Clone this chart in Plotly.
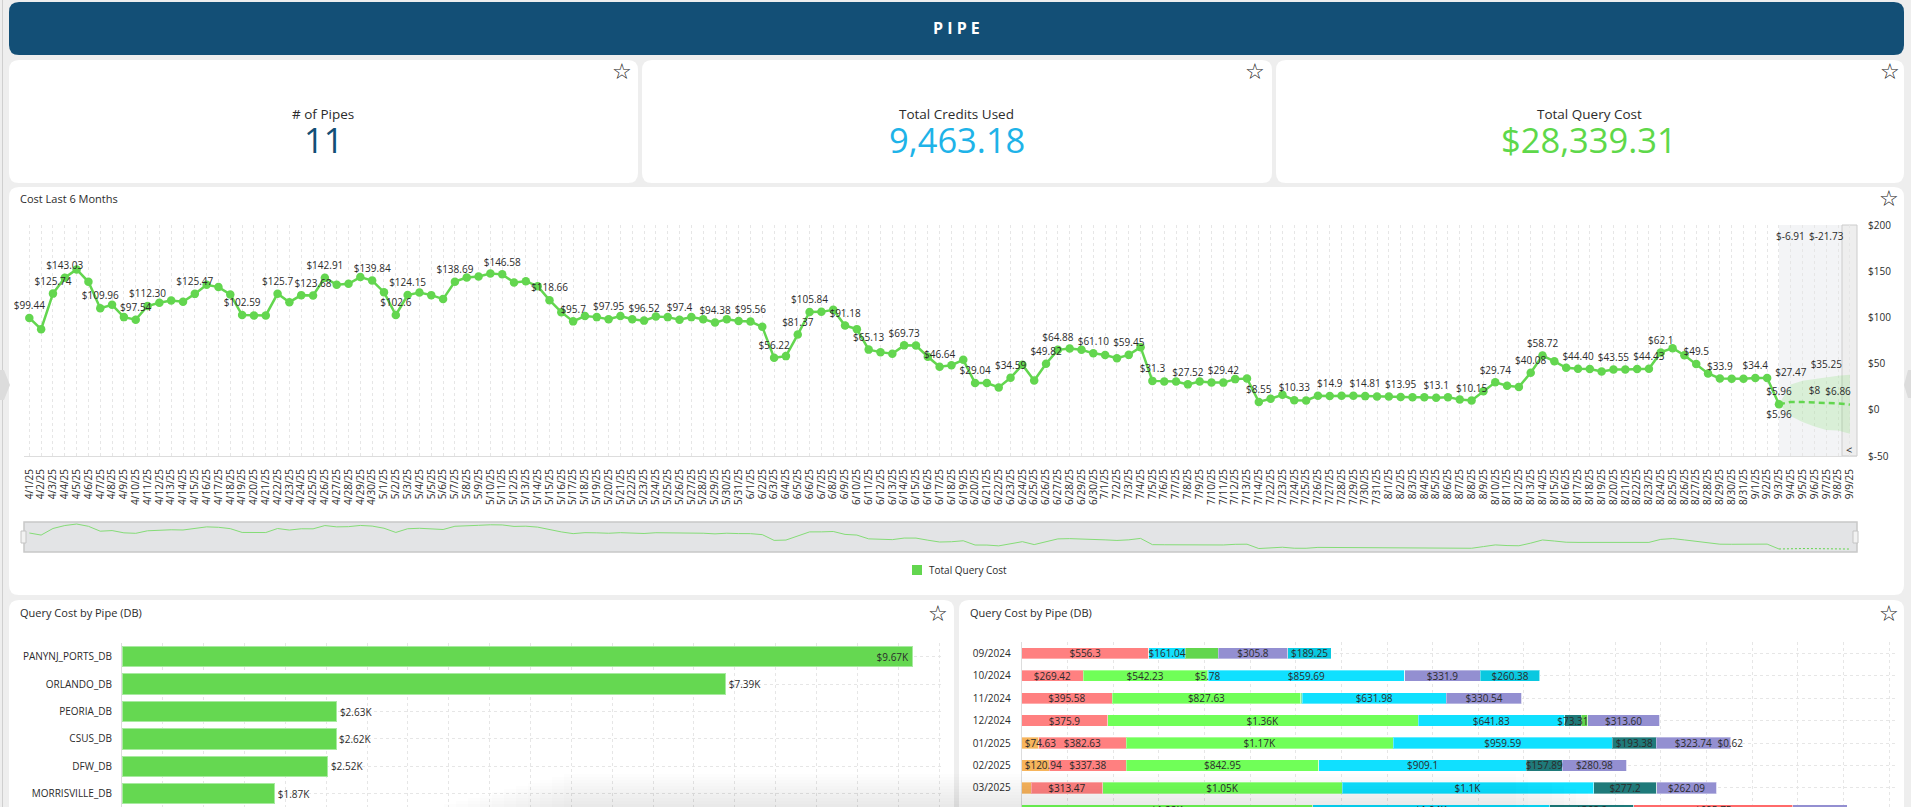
import plotly.graph_objects as go

W, H = 1911, 807
FONT = "Open Sans, Noto Sans, Arial, sans-serif"
TEXT = "#2b2b2b"
GREEN = "#63d64f"

# cost per day, last 6 months
dates = [
    "4/1/25", "4/2/25", "4/3/25", "4/4/25", "4/5/25", "4/6/25", "4/7/25", "4/8/25", "4/9/25", "4/10/25",
    "4/11/25", "4/12/25", "4/13/25", "4/14/25", "4/15/25", "4/16/25", "4/17/25", "4/18/25", "4/19/25", "4/20/25",
    "4/21/25", "4/22/25", "4/23/25", "4/24/25", "4/25/25", "4/26/25", "4/27/25", "4/28/25", "4/29/25", "4/30/25",
    "5/1/25", "5/2/25", "5/3/25", "5/4/25", "5/5/25", "5/6/25", "5/7/25", "5/8/25", "5/9/25", "5/10/25",
    "5/11/25", "5/12/25", "5/13/25", "5/14/25", "5/15/25", "5/16/25", "5/17/25", "5/18/25", "5/19/25", "5/20/25",
    "5/21/25", "5/22/25", "5/23/25", "5/24/25", "5/25/25", "5/26/25", "5/27/25", "5/28/25", "5/29/25", "5/30/25",
    "5/31/25", "6/1/25", "6/2/25", "6/3/25", "6/4/25", "6/5/25", "6/6/25", "6/7/25", "6/8/25", "6/9/25",
    "6/10/25", "6/11/25", "6/12/25", "6/13/25", "6/14/25", "6/15/25", "6/16/25", "6/17/25", "6/18/25", "6/19/25",
    "6/20/25", "6/21/25", "6/22/25", "6/23/25", "6/24/25", "6/25/25", "6/26/25", "6/27/25", "6/28/25", "6/29/25",
    "6/30/25", "7/1/25", "7/2/25", "7/3/25", "7/4/25", "7/5/25", "7/6/25", "7/7/25", "7/8/25", "7/9/25",
    "7/10/25", "7/11/25", "7/12/25", "7/13/25", "7/14/25", "7/22/25", "7/23/25", "7/24/25", "7/25/25", "7/26/25",
    "7/27/25", "7/28/25", "7/29/25", "7/30/25", "7/31/25", "8/1/25", "8/2/25", "8/3/25", "8/4/25", "8/5/25",
    "8/6/25", "8/7/25", "8/8/25", "8/9/25", "8/10/25", "8/11/25", "8/12/25", "8/13/25", "8/14/25", "8/15/25",
    "8/16/25", "8/17/25", "8/18/25", "8/19/25", "8/20/25", "8/21/25", "8/22/25", "8/23/25", "8/24/25", "8/25/25",
    "8/26/25", "8/27/25", "8/28/25", "8/29/25", "8/30/25", "8/31/25", "9/1/25", "9/2/25", "9/3/25",
    "9/4/25", "9/5/25", "9/6/25", "9/7/25", "9/8/25", "9/9/25",
]
actual_cost = [
    99.44, 87.3, 125.74, 143.03, 151.9, 138.5, 109.96, 113.6, 100.3, 97.54,
    112.30, 115.8, 118.3, 116.9, 125.47, 135.3, 132.8, 124.8, 102.59, 102.1,
    102.1, 125.7, 116.5, 124.1, 123.68, 142.91, 135.3, 136.4, 143.6, 139.84,
    127.3, 102.6, 124.15, 127.0, 124.1, 119.8, 138.69, 143.2, 144.3, 147.5,
    146.58, 137.8, 139.2, 133.8, 118.66, 105.7, 95.7, 101.4, 100.3, 97.95,
    101.4, 98.1, 96.52, 101.0, 100.3, 97.4, 100.3, 98.1, 94.38, 98.1,
    96.0, 95.56, 89.8, 56.22, 58.1, 81.37, 105.84, 106.0, 108.2, 91.18,
    87.3, 65.13, 62.4, 60.6, 69.73, 69.6, 57.4, 46.64, 48.3, 54.1,
    29.04, 28.9, 24.2, 34.59, 48.7, 31.7, 49.82, 64.88, 66.4, 64.9,
    61.10, 59.2, 55.9, 59.45, 67.8, 31.3, 30.7, 30.7, 27.52, 30.7,
    29.6, 29.42, 33.2, 33.9, 8.55, 11.9, 16.2, 10.33, 10.1, 15.2,
    14.9, 15.2, 15.2, 14.81, 14.4, 14.4, 13.95, 13.7, 13.7, 13.1,
    13.7, 11.2, 10.15, 20.0, 29.74, 26.0, 24.8, 40.08, 58.72, 52.5,
    45.5, 44.40, 44.2, 41.5, 43.55, 43.7, 44.2, 44.43, 62.1, 66.7,
    59.0, 49.5, 39.3, 33.9, 33.5, 33.5, 34.4, 34.4, 5.96,
]
# only some points carry a label in the original
cost_labels = {
    "4/1/25": "$99.44", "4/3/25": "$125.74", "4/4/25": "$143.03", "4/7/25": "$109.96", "4/10/25": "$97.54",
    "4/11/25": "$112.30", "4/15/25": "$125.47", "4/19/25": "$102.59", "4/22/25": "$125.7", "4/25/25": "$123.68",
    "4/26/25": "$142.91", "4/30/25": "$139.84", "5/2/25": "$102.6", "5/3/25": "$124.15", "5/7/25": "$138.69",
    "5/11/25": "$146.58", "5/15/25": "$118.66", "5/17/25": "$95.7", "5/20/25": "$97.95", "5/23/25": "$96.52",
    "5/26/25": "$97.4", "5/29/25": "$94.38", "6/1/25": "$95.56", "6/3/25": "$56.22", "6/5/25": "$81.37",
    "6/6/25": "$105.84", "6/9/25": "$91.18", "6/11/25": "$65.13", "6/14/25": "$69.73", "6/17/25": "$46.64",
    "6/20/25": "$29.04", "6/23/25": "$34.59", "6/26/25": "$49.82", "6/27/25": "$64.88", "6/30/25": "$61.10",
    "7/3/25": "$59.45", "7/5/25": "$31.3", "7/8/25": "$27.52", "7/11/25": "$29.42", "7/14/25": "$8.55",
    "7/24/25": "$10.33", "7/27/25": "$14.9", "7/30/25": "$14.81", "8/2/25": "$13.95", "8/5/25": "$13.1",
    "8/8/25": "$10.15", "8/10/25": "$29.74", "8/13/25": "$40.08", "8/14/25": "$58.72", "8/17/25": "$44.40",
    "8/20/25": "$43.55", "8/23/25": "$44.43", "8/24/25": "$62.1", "8/27/25": "$49.5", "8/29/25": "$33.9",
    "9/1/25": "$34.4", "9/3/25": "$5.96",
}

forecast_dates = ["9/3/25", "9/4/25", "9/5/25", "9/6/25", "9/7/25", "9/8/25", "9/9/25"]
forecast_mid = [5.96, 8.5, 8.4, 8.0, 7.5, 6.86, 5.6]
forecast_upper = [5.96, 27.47, 31.5, 33.5, 35.25, 36.8, 37.9]
forecast_lower = [5.96, -6.91, -13.3, -18.0, -21.73, -22.4, -26.0]
forecast_mid_text = ["", "", "", "$8", "", "$6.86", ""]
forecast_upper_text = ["", "$27.47", "", "", "$35.25", "", ""]
forecast_lower_text = ["$5.96", "", "", "", "", "", ""]
forecast_top_labels = {"9/4/25": "$-6.91", "9/7/25": "$-21.73"}

# cost by pipe
pipe_names = ["PANYNJ_PORTS_DB", "ORLANDO_DB", "PEORIA_DB", "CSUS_DB", "DFW_DB", "MORRISVILLE_DB"]
pipe_cost = [9670, 7390, 2630, 2620, 2520, 1870]
pipe_text = ["$9.67K", "$7.39K", "$2.63K", "$2.62K", "$2.52K", "$1.87K"]

# cost by pipe and month, stacked
months = ["09/2024", "10/2024", "11/2024", "12/2024", "01/2025", "02/2025", "03/2025", "04/2025"]
stack_series = [
    ("#f7b55c", [0, 0, 0, 0, 74.63, 120.94, 41, 0], ["", "", "", "", "$74.63", "$120.94", "", ""]),
    ("#ff8080", [556.3, 269.42, 395.58, 375.9, 382.63, 337.38, 313.47, 0],
     ["$556.3", "$269.42", "$395.58", "$375.9", "$382.63", "$337.38", "$313.47", ""]),
    ("#70ff58", [0, 542.23, 827.63, 1360, 1170, 842.95, 1050, 1275],
     ["", "$542.23", "$827.63", "$1.36K", "$1.17K", "$842.95", "$1.05K", "$1.28K"]),
    ("#7fe8b0", [0, 5.78, 5, 0, 0, 0, 0, 0], ["", "$5.78", "", "", "", "", "", ""]),
    ("#10e0ff", [161.04, 859.69, 631.98, 641.83, 959.59, 909.1, 1100, 1038],
     ["$161.04", "$859.69", "$631.98", "$641.83", "$959.59", "$909.1", "$1.1K", "$1.04K"]),
    ("#1f7a7a", [0, 0, 0, 73.31, 193.38, 157.89, 277.2, 368],
     ["", "", "", "$73.31", "$193.38", "$157.89", "$277.2", "$368.2"]),
    ("#62d64e", [143, 0, 0, 29, 0, 0, 0, 0], ["", "", "", "", "", "", "", ""]),
    ("#ff6a6a", [0, 0, 0, 0, 0, 0, 0, 695.75], ["", "", "", "", "", "", "", "$695.75"]),
    ("#938fd1", [305.8, 331.9, 330.54, 313.60, 323.74, 280.98, 262.09, 240],
     ["$305.8", "$331.9", "$330.54", "$313.60", "$323.74", "$280.98", "$262.09", ""]),
    ("#0ac8e0", [189.25, 260.38, 0, 0, 0, 0, 0, 0], ["$189.25", "$260.38", "", "", "", "", "", ""]),
    ("#b9b6e6", [0, 0, 0, 0, 0.62, 0, 0, 0], ["", "", "", "", "$0.62", "", "", ""]),
]

kpi_cards = [
    ("# of Pipes", "11", "#134f76", 323),
    ("Total Credits Used", "9,463.18", "#1eb3e8", 957),
    ("Total Query Cost", "$28,339.31", "#5ed84a", 1589),
]


def fx(x):
    return x / W


def fy(y):
    return 1 - y / H


def rounded(x0, y0, x1, y1, r=10):
    a, b, c, d = fx(x0), fx(x1), fy(y0), fy(y1)
    rx, ry = r / W, r / H
    return (
        f"M {a + rx},{c} L {b - rx},{c} Q {b},{c} {b},{c - ry} L {b},{d + ry} Q {b},{d} {b - rx},{d} "
        f"L {a + rx},{d} Q {a},{d} {a},{d + ry} L {a},{c - ry} Q {a},{c} {a + rx},{c} Z"
    )


def card(x0, y0, x1, y1, color="white"):
    return dict(type="path", path=rounded(x0, y0, x1, y1), xref="paper", yref="paper",
                fillcolor=color, line_width=0, layer="below")


def box(x0, y0, x1, y1, fill, line="rgba(0,0,0,0)", width=0, layer="below"):
    return dict(type="rect", xref="paper", yref="paper", x0=fx(x0), x1=fx(x1), y0=fy(y0), y1=fy(y1),
                fillcolor=fill, line=dict(color=line, width=width), layer=layer)


def tab(points):
    path = "M " + " L ".join(f"{fx(x)},{fy(y)}" for x, y in points) + " Z"
    return dict(type="path", path=path, xref="paper", yref="paper", fillcolor="#dcdcdc", line_width=0, layer="below")


def note(text, x, y, size=10, color=TEXT, anchor="center", family=FONT):
    return dict(text=text, x=fx(x), y=fy(y), xref="paper", yref="paper", showarrow=False,
                xanchor=anchor, yanchor="middle", font=dict(size=size, color=color, family=family))


fig = go.Figure()

shaded_from = dates.index(forecast_dates[0])
last_x = len(dates) - 1 + 0.6

shapes = [
    box(2, 0, 3, H, "#cfcfcf"),
    card(9, 2, 1904, 55, "#134f76"),
    card(9, 60, 638, 183),
    card(642, 60, 1272, 183),
    card(1276, 60, 1904, 183),
    card(9, 187, 1904, 595),
    card(9, 600, 954, 830),
    card(959, 600, 1904, 830),
    tab([(0, 370), (4, 370), (10, 385), (4, 400), (0, 400)]),
    tab([(1911, 370), (1908, 370), (1904, 385), (1908, 398), (1911, 398)]),
    # forecast shading behind the main plot
    dict(type="rect", xref="x", yref="paper", x0=shaded_from, x1=last_x, y0=fy(456), y1=fy(225),
         fillcolor="#f3f4f6", line_width=0, layer="below"),
    box(1842, 225, 1857, 456, "#eeeeee", "#cccccc", 1),
    # range slider
    box(24, 522, 1857, 552, "#e3e4e6", "#c8c8c8", 1.5),
    box(21, 531, 26, 543, "#f2f2f2", "#c4c4c4", 1, layer="above"),
    box(1853, 531, 1858, 543, "#f2f2f2", "#c4c4c4", 1, layer="above"),
    # legend swatch
    box(912, 565, 922, 575, GREEN),
]
# soft shadow at the bottom of the page
for i in range(12):
    top = 774 + i * 3
    shapes.append(box(420 + (12 - i) * 12, top, 1660 - (12 - i) * 12, H, "rgba(0,0,0,0.009)", layer="above"))

annotations = [
    note("<b>P I P E</b>", 957, 28, 16, "white"),
    note("Cost Last 6 Months", 18, 199, 11, anchor="left"),
    note("Query Cost by Pipe (DB)", 18, 612, 11, anchor="left"),
    note("Query Cost by Pipe (DB)", 968, 612, 11, anchor="left"),
    note("Total Query Cost", 927, 570, 10, anchor="left"),
    note("<", 1849, 449, 11),
]
for label, value, color, center in kpi_cards:
    annotations.append(note(label, center, 114, 13.5))
    annotations.append(note(value, center, 139, 34.5, color))
for sx, sy in [(622, 72), (1255, 72), (1890, 72), (1889, 199), (938, 613), (1889, 613)]:
    annotations.append(note("☆", sx, sy, 22, "#222222", family="DejaVu Sans"))
for day, text in forecast_top_labels.items():
    annotations.append(dict(text=text, x=day, y=188, xref="x", yref="y", showarrow=False,
                            font=dict(size=10, color=TEXT, family=FONT)))

label_font = dict(size=10, color=TEXT, family=FONT)
ghost = dict(color="rgba(0,0,0,0)", size=8.5)

# forecast band
fig.add_trace(go.Scatter(x=forecast_dates, y=forecast_lower, mode="lines+markers+text", text=forecast_lower_text,
                         textposition="bottom center", textfont=label_font, line=dict(width=0, color=GREEN),
                         marker=ghost, hoverinfo="skip"))
fig.add_trace(go.Scatter(x=forecast_dates, y=forecast_upper, mode="lines+markers+text", text=forecast_upper_text,
                         textposition="top center", textfont=label_font, line=dict(width=0, color=GREEN),
                         marker=ghost, fill="tonexty", fillcolor="rgba(99,214,79,0.18)", hoverinfo="skip"))
fig.add_trace(go.Scatter(x=forecast_dates, y=forecast_mid, mode="lines+markers+text", text=forecast_mid_text,
                         textposition="top center", textfont=label_font, marker=ghost,
                         line=dict(color=GREEN, width=2.5, dash="6px,4px")))
fig.add_trace(go.Scatter(x=dates[:len(actual_cost)], y=actual_cost, mode="lines+markers+text",
                         text=[cost_labels.get(d, "") for d in dates[:len(actual_cost)]],
                         textposition="top center", textfont=label_font,
                         line=dict(color=GREEN, width=2.5), marker=dict(color=GREEN, size=8.5),
                         cliponaxis=False))

# range slider preview
fig.add_trace(go.Scatter(x=dates[:len(actual_cost)], y=actual_cost, mode="lines", xaxis="x3", yaxis="y3",
                         line=dict(color="#85dc77", width=1)))
fig.add_trace(go.Scatter(x=forecast_dates, y=forecast_mid, mode="lines", xaxis="x3", yaxis="y3",
                         line=dict(color="#63d64f", width=1, dash="2px,2px")))

# pipe bars
fig.add_trace(go.Bar(x=pipe_cost, y=pipe_names, orientation="h", xaxis="x2", yaxis="y2", width=0.75,
                     text=pipe_text, textposition=["inside"] + ["outside"] * 5, insidetextanchor="end",
                     textangle=0, constraintext="none", textfont=label_font, cliponaxis=False,
                     marker=dict(color="#65d851", line=dict(color="#a8eaa0", width=1))))

# monthly stack, then its labels on a second pair of axes so that no bar covers them
for color, values, texts in stack_series:
    fig.add_trace(go.Bar(x=values, y=months, orientation="h", xaxis="x4", yaxis="y4", width=0.5,
                         marker=dict(color=color, line=dict(color="rgba(255,255,255,0.35)", width=1))))
for n, (color, values, texts) in enumerate(stack_series):
    fig.add_trace(go.Bar(x=values, y=months, orientation="h", xaxis="x5", yaxis="y5", width=0.5,
                         text=texts, textposition="inside", textangle=0, constraintext="none",
                         insidetextanchor="start" if n == 0 else "middle", textfont=label_font,
                         marker=dict(color="rgba(0,0,0,0)", line=dict(width=0))))

dotted = dict(showgrid=True, gridcolor="#e6e6e6", griddash="dot", gridwidth=1, zeroline=False, automargin=False)
hidden = dict(showticklabels=False, showgrid=False, zeroline=False, automargin=False)

fig.update_layout(
    width=W,
    height=H,
    margin=dict(l=0, r=0, t=0, b=0),
    paper_bgcolor="#eeeeee",
    plot_bgcolor="rgba(0,0,0,0)",
    font=dict(family=FONT, size=10, color=TEXT),
    barmode="stack",
    shapes=shapes,
    annotations=annotations,
    showlegend=False,
    xaxis=dict(domain=[fx(24), fx(1857)], type="category", categoryorder="array", categoryarray=dates,
               range=[-0.45, last_x], tickmode="array", tickvals=dates, ticktext=dates, tickangle=-90,
               tickfont=dict(size=10), ticks="outside", ticklen=8, tickcolor="rgba(0,0,0,0)",
               showline=True, linecolor="#dddddd", **dotted),
    yaxis=dict(domain=[fy(456), fy(225)], range=[-50, 200], side="right", anchor="x", automargin=False,
               tickmode="array", tickvals=[-50, 0, 50, 100, 150, 200],
               ticktext=["$-50", "$0", "$50", "$100", "$150", "$200"], tickfont=dict(size=10),
               ticks="outside", ticklen=8, tickcolor="rgba(0,0,0,0)", showgrid=False, zeroline=False),
    xaxis3=dict(domain=[fx(24), fx(1857)], type="category", categoryorder="array", categoryarray=dates,
                range=[-0.45, last_x], anchor="y3", **hidden),
    yaxis3=dict(domain=[fy(552), fy(522)], range=[-11.7, 163.7], anchor="x3", **hidden),
    xaxis2=dict(domain=[fx(122), fx(941)], range=[0, 10024], anchor="y2", dtick=500,
                showticklabels=False, **dotted),
    yaxis2=dict(domain=[0, fy(643)], type="category", categoryorder="array", categoryarray=pipe_names,
                range=[5.485, -0.5], anchor="x2", tickfont=dict(size=10), ticks="outside", ticklen=7,
                tickcolor="rgba(0,0,0,0)", showline=True, linecolor="#dddddd", **dotted),
    xaxis4=dict(domain=[fx(1021.7), fx(1895)], range=[0, 3825], anchor="y4", dtick=200,
                showticklabels=False, **dotted),
    yaxis4=dict(domain=[0, fy(642)], type="category", categoryorder="array", categoryarray=months,
                range=[6.85, -0.5], anchor="x4", tickfont=dict(size=10), ticks="outside", ticklen=8,
                tickcolor="rgba(0,0,0,0)", showline=True, linecolor="#dddddd", **dotted),
    xaxis5=dict(domain=[fx(1021.7), fx(1895)], range=[0, 3825], anchor="y5", overlaying="x4", **hidden),
    yaxis5=dict(domain=[0, fy(642)], type="category", categoryorder="array", categoryarray=months,
                range=[6.85, -0.5], anchor="x5", overlaying="y4", **hidden),
)

fig.write_html("out.html", post_script="document.body.style.margin='0';document.body.style.overflow='hidden';",
               config={"displayModeBar": False})
